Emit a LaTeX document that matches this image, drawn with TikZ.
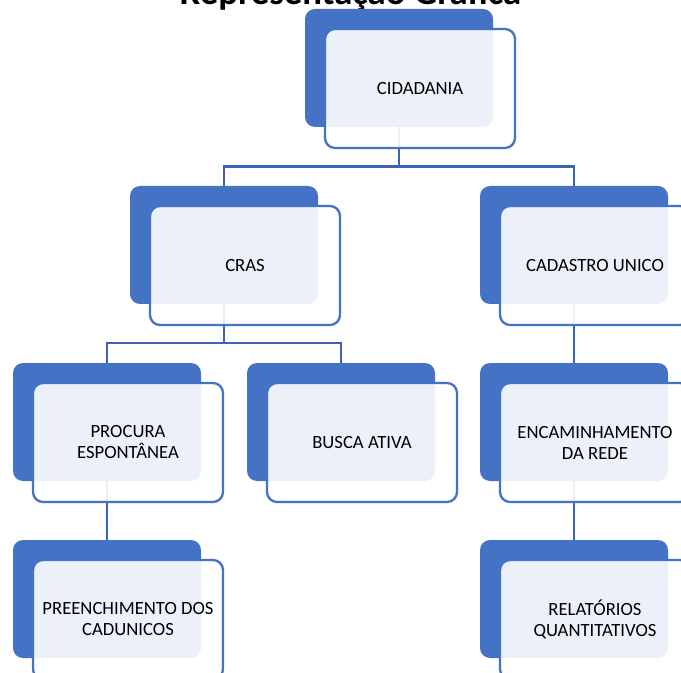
\documentclass[tikz,border=0pt]{standalone}
\usepackage{fontspec}
\setmainfont{Carlito}
\definecolor{boxblue}{HTML}{4472C4}
\definecolor{linkblue}{HTML}{3B64B4}

\begin{document}
\begin{tikzpicture}[x=0.75pt,y=-0.75pt,
  back/.style={fill=boxblue,rounded corners=7.5pt,minimum width=141pt,minimum height=88.5pt,inner sep=0pt,outer sep=0pt},
  front/.style={draw=boxblue,line width=1.75pt,fill=white,fill opacity=0.9,text opacity=1,rounded corners=7.5pt,minimum width=142.5pt,minimum height=89.25pt,inner sep=0pt,outer sep=0pt,align=center,font=\fontsize{14}{15.75}\selectfont},
  link/.style={draw=linkblue,line width=1.9pt}]
\useasboundingbox (0,0) rectangle (681,673);

\node[anchor=base,font=\bfseries\fontsize{27.6}{30}\selectfont] (title) at (350.5,5) {Representação Gráfica};

\node[back] (cid) at (399,68) {};
\node[back] (cras) at (224,245) {};
\node[back] (cad) at (574,245) {};
\node[back] (proc) at (107,422) {};
\node[back] (busca) at (341,422) {};
\node[back] (enc) at (574,422) {};
\node[back] (pre) at (107,599) {};
\node[back] (rel) at (574,599) {};

\draw[link] (cid.south) -- ++(0,39.5) -| (cras.north);
\draw[link] (cid.south) -- ++(0,39.5) -| (cad.north);
\draw[link] (cras.south) -- ++(0,39) -| (proc.north);
\draw[link] (cras.south) -- ++(0,39) -| (busca.north);
\draw[link] (cad.south) -- (enc.north);
\draw[link] (proc.south) -- (pre.north);
\draw[link] (enc.south) -- (rel.north);

\node[front] (cidt) at ([shift={(21,20.5)}]cid.center) {CIDADANIA};
\node[front] (crast) at ([shift={(21,20.5)}]cras.center) {CRAS};
\node[front] (cadt) at ([shift={(21,20.5)}]cad.center) {CADASTRO UNICO};
\node[front] (proct) at ([shift={(21,20.5)}]proc.center) {PROCURA\\ESPONTÂNEA};
\node[front] (buscat) at ([shift={(21,20.5)}]busca.center) {BUSCA ATIVA};
\node[front] (enct) at ([shift={(21,20.5)}]enc.center) {ENCAMINHAMENTO\\DA REDE};
\node[front] (pret) at ([shift={(21,20.5)}]pre.center) {PREENCHIMENTO DOS\\CADUNICOS};
\node[front] (relt) at ([shift={(21,20.5)}]rel.center) {RELATÓRIOS\\QUANTITATIVOS};
\end{tikzpicture}
\end{document}
